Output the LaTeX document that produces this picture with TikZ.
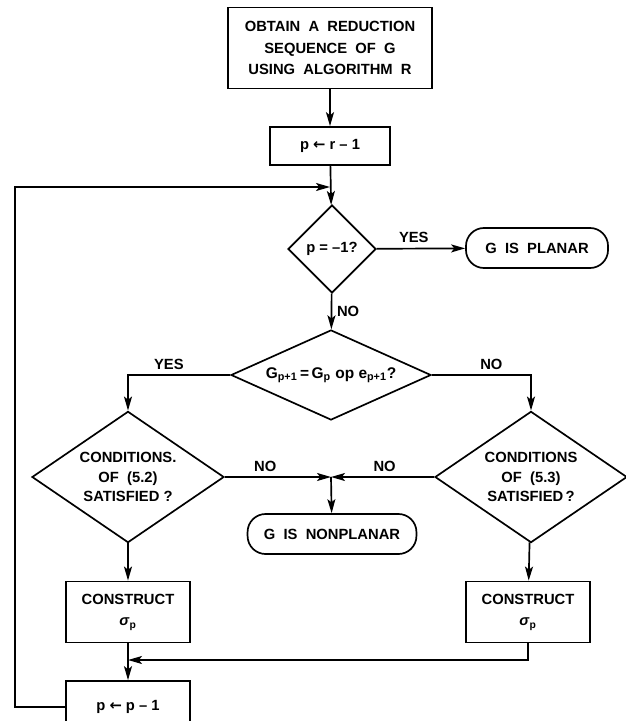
\documentclass[tikz,border=0pt]{standalone}
\usepackage{fontspec}
\setmainfont{Liberation Sans}
\newfontfamily\arrowfont{DejaVu Sans}
\usepackage{tikz}
\usetikzlibrary{arrows.meta,positioning,shapes.geometric}

\newcommand{\getsarrow}{{\arrowfont\bfseries ←}}
\newcommand{\sigp}{\textit{σ}\textsubscript{p}}

\begin{document}
\begin{tikzpicture}[
  x=0.025cm, y=-0.025cm,
  box/.style={rectangle, draw, line width=1.2pt, font=\bfseries\fontsize{10.5}{15.5}\selectfont,
    align=center, inner sep=0pt},
  test/.style={diamond, draw, line width=1.2pt, font=\bfseries\fontsize{10.5}{14}\selectfont,
    align=center, inner sep=0pt},
  terminal/.style={rectangle, draw, line width=1.2pt, rounded corners=0.45cm,
    font=\bfseries\fontsize{10.5}{12}\selectfont, minimum height=1cm},
  lbl/.style={font=\bfseries\fontsize{10.5}{12}\selectfont},
  ->, >={Stealth[length=3.5mm,width=2mm,inset=0.8mm]}, line width=1.2pt
]
  \useasboundingbox (0,0) rectangle (625,721);

  \node[box, minimum width=5.1cm, minimum height=2.03cm] (obtain) at (330,48)
    {OBTAIN\ \ A\ \ REDUCTION\\SEQUENCE\ \ OF\ \ G\\USING\ \ ALGORITHM\ \ R};
  \node[box, minimum width=3cm, minimum height=0.95cm] (init) at (330,146)
    {p \getsarrow\ r -- 1};
  \node[test, minimum width=2.2cm, minimum height=2.2cm] (last) at (332,249)
    {p = --1?};
  \node[terminal, minimum width=3.55cm] (planar) at (537,248) {G\ \ IS\ \ PLANAR};

  \node[test, aspect=2.22, minimum width=5cm, minimum height=2.25cm] (kind) at (331,375)
    {\raisebox{-4pt}{\fontsize{11}{13}\selectfont G\textsubscript{p+1}\,=\,G\textsubscript{p} op e\textsubscript{p+1}?}};

  \node[test, aspect=1.47, minimum width=4.8cm, minimum height=3.28cm] (cond2) at (128,477)
    {CONDITIONS.\\OF\ \ (5.2)\\SATISFIED ?};
  \node[test, aspect=1.47, minimum width=4.8cm, minimum height=3.28cm] (cond3) at (531,477)
    {CONDITIONS\\OF\ \ (5.3)\\SATISFIED\,?};
  \node[terminal, minimum width=4.22cm] (nonplanar) at (332,534) {G\ \ IS\ \ NONPLANAR};

  \node[box, minimum width=3.1cm, minimum height=1.53cm] (sigL) at (128,612)
    {CONSTRUCT\\\sigp};
  \node[box, minimum width=3.1cm, minimum height=1.53cm] (sigR) at (528,612)
    {CONSTRUCT\\\sigp};
  \node[box, minimum width=3.1cm, minimum height=1.3cm] (dec) at (128,707)
    {p \getsarrow\ p -- 1};

  \coordinate (loopin) at (330,187);
  \coordinate (corner) at (15,187);
  \coordinate (nojoin) at (331,477);
  \coordinate (merge) at (128,660);

  \draw (obtain) -- (init);
  \draw (init) -- (last);
  \draw (last) -- node[lbl, above, pos=0.42] {YES} (planar);
  \draw (last) -- node[lbl, right] {NO} (kind);

  \draw (kind.west) -| node[lbl, above, pos=0.3] {YES} (cond2.north);
  \draw (kind.east) -| node[lbl, above, pos=0.3] {NO} (cond3.north);

  \draw (cond2.east) -- node[lbl, above, pos=0.38] {NO} (nojoin);
  \draw (cond3.west) -- node[lbl, above, pos=0.48] {NO} (nojoin);
  \draw (nojoin) -- (nonplanar);

  \draw (cond2) -- (sigL);
  \draw (cond3) -- (sigR);
  \draw (sigR.south) |- (merge);
  \draw (sigL) -- (dec);

  % back to the test on p
  \draw (dec.west) -| (corner) -- (loopin);
\end{tikzpicture}
\end{document}
